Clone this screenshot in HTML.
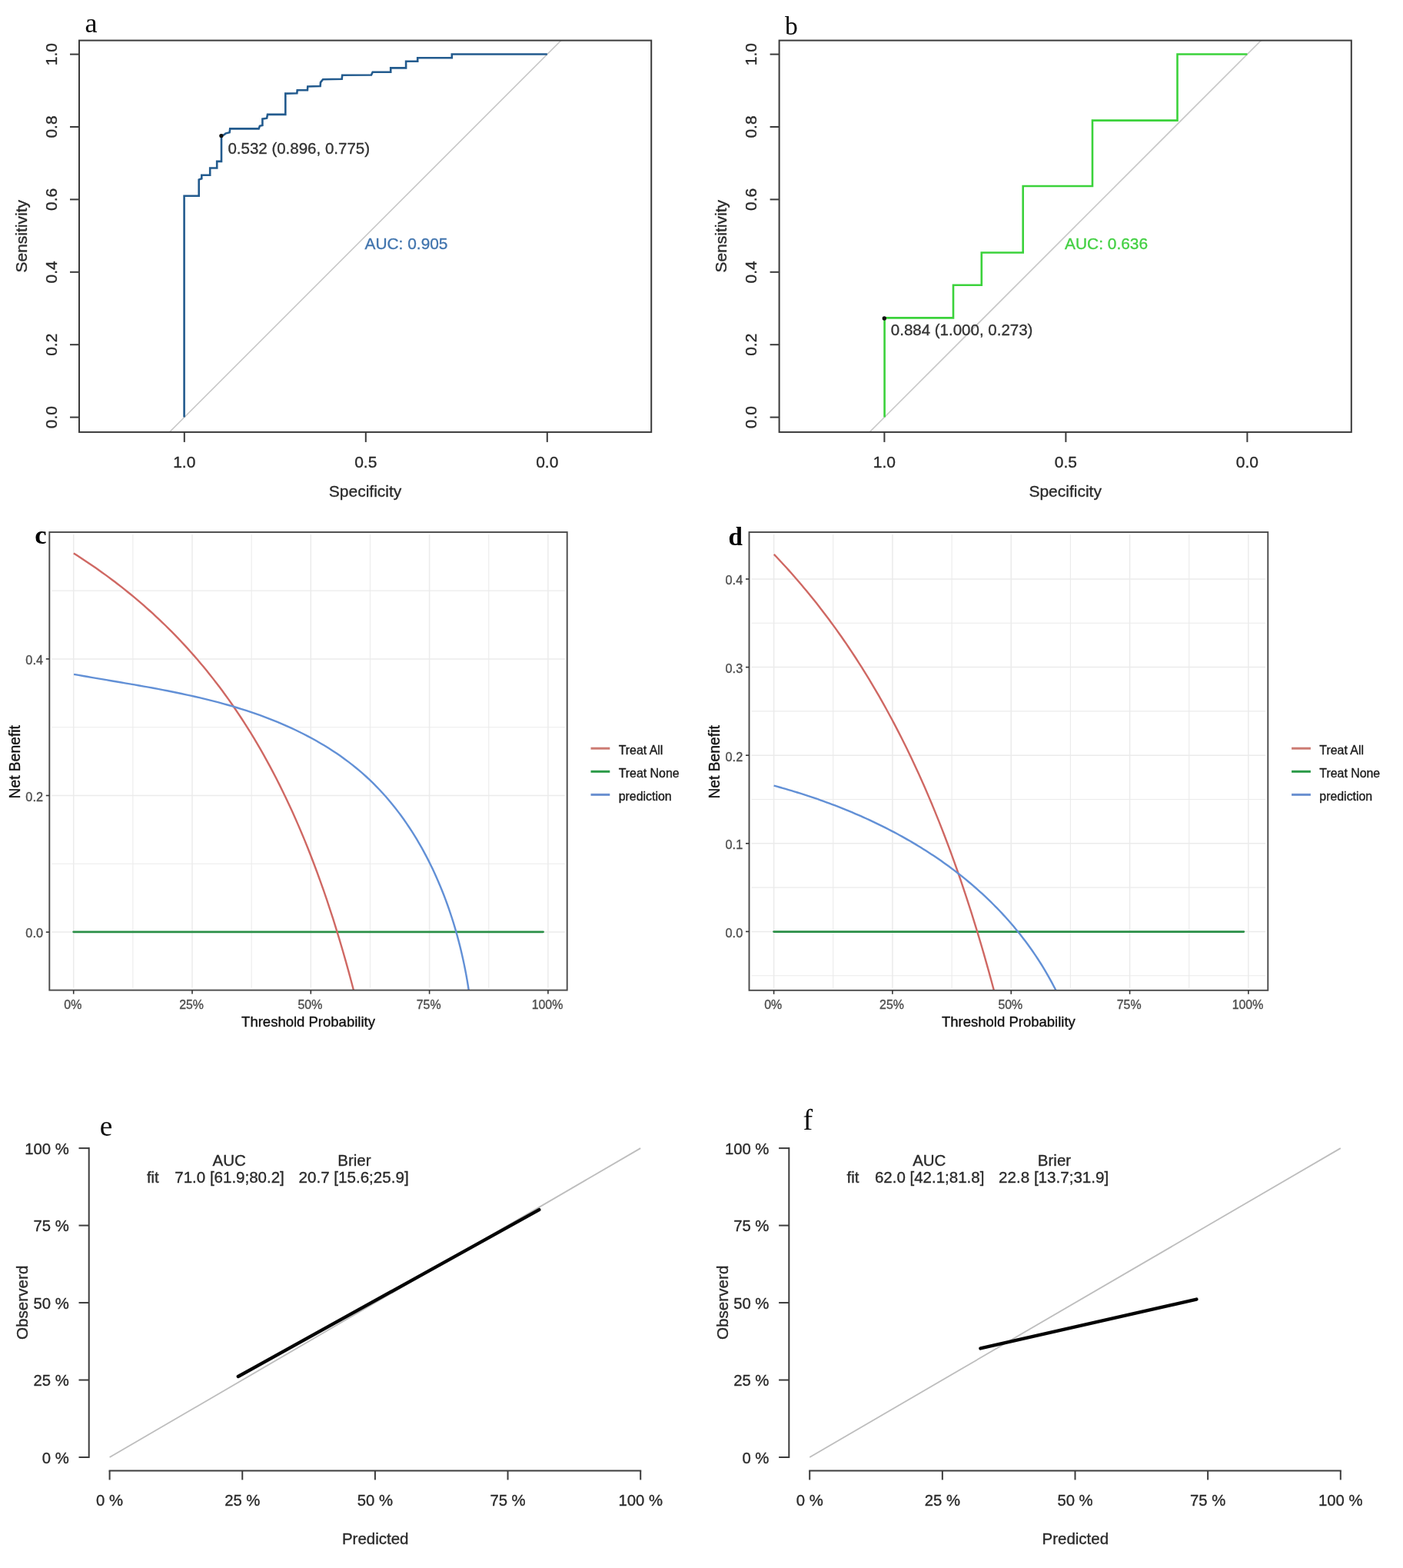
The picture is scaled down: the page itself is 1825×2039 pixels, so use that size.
<!DOCTYPE html>
<html><head><meta charset="utf-8"><title>Figure</title>
<style>html,body{margin:0;padding:0;background:#fff;} svg{display:block;}</style>
</head><body>
<svg width="1825" height="2039" viewBox="0 0 1825 2039">
<rect width="1825" height="2039" fill="#fff"/>
<clipPath id="clipa"><rect x="103" y="52.6" width="744.2" height="509.3"/></clipPath>
<line x1="211.48" y1="570.92" x2="740.12" y2="42.28" stroke="#c8c8c8" stroke-width="1.6" clip-path="url(#clipa)"/>
<polyline points="239.6,542.6 239.6,254.7 258.7,254.7 258.7,233.6 262.3,232.3 262.3,227.7 273.2,227.7 273.2,218.5 282.2,218.5 282.2,209.9 288,209.9 288,176.9 292,175 293.3,173.6 298.6,172.3 299.2,167.3 336.6,167.4 337.9,163.8 341.4,163 341.4,154.6 347.1,153.7 348,148.9 371.3,148.9 371.3,121.6 386.3,121.2 386.7,117.3 399.9,117.3 400.3,112.4 416.6,112 417,107.1 420.1,103.2 444.7,102.7 445.2,97.7 483,97.5 484.7,93.8 508.2,93.7 508.2,88.4 528.1,88.4 528.1,79.7 543.2,79.7 543.2,75.3 587.8,75.3 587.8,70.5 711.8,70.5" fill="none" stroke="#235b8e" stroke-width="2.6" stroke-linejoin="miter"/>
<rect x="103" y="52.6" width="744.2" height="509.3" fill="none" stroke="#3a3a3a" stroke-width="2"/>
<line x1="91" y1="542.6" x2="103" y2="542.6" stroke="#3a3a3a" stroke-width="2" />
<text x="73.7" y="542.6" font-size="21" text-anchor="middle" fill="#2a2a2a" stroke="#2a2a2a" stroke-width="0.35" font-family='"Liberation Sans", Arial, sans-serif' transform="rotate(-90 73.7 542.6)" >0.0</text>
<line x1="91" y1="448.2" x2="103" y2="448.2" stroke="#3a3a3a" stroke-width="2" />
<text x="73.7" y="448.2" font-size="21" text-anchor="middle" fill="#2a2a2a" stroke="#2a2a2a" stroke-width="0.35" font-family='"Liberation Sans", Arial, sans-serif' transform="rotate(-90 73.7 448.2)" >0.2</text>
<line x1="91" y1="353.8" x2="103" y2="353.8" stroke="#3a3a3a" stroke-width="2" />
<text x="73.7" y="353.8" font-size="21" text-anchor="middle" fill="#2a2a2a" stroke="#2a2a2a" stroke-width="0.35" font-family='"Liberation Sans", Arial, sans-serif' transform="rotate(-90 73.7 353.8)" >0.4</text>
<line x1="91" y1="259.4" x2="103" y2="259.4" stroke="#3a3a3a" stroke-width="2" />
<text x="73.7" y="259.4" font-size="21" text-anchor="middle" fill="#2a2a2a" stroke="#2a2a2a" stroke-width="0.35" font-family='"Liberation Sans", Arial, sans-serif' transform="rotate(-90 73.7 259.4)" >0.6</text>
<line x1="91" y1="165" x2="103" y2="165" stroke="#3a3a3a" stroke-width="2" />
<text x="73.7" y="165" font-size="21" text-anchor="middle" fill="#2a2a2a" stroke="#2a2a2a" stroke-width="0.35" font-family='"Liberation Sans", Arial, sans-serif' transform="rotate(-90 73.7 165)" >0.8</text>
<line x1="91" y1="70.6" x2="103" y2="70.6" stroke="#3a3a3a" stroke-width="2" />
<text x="73.7" y="70.6" font-size="21" text-anchor="middle" fill="#2a2a2a" stroke="#2a2a2a" stroke-width="0.35" font-family='"Liberation Sans", Arial, sans-serif' transform="rotate(-90 73.7 70.6)" >1.0</text>
<line x1="239.8" y1="561.9" x2="239.8" y2="574.9" stroke="#3a3a3a" stroke-width="2" />
<text x="239.8" y="608" font-size="21" text-anchor="middle" fill="#2a2a2a" stroke="#2a2a2a" stroke-width="0.35" font-family='"Liberation Sans", Arial, sans-serif' >1.0</text>
<line x1="475.8" y1="561.9" x2="475.8" y2="574.9" stroke="#3a3a3a" stroke-width="2" />
<text x="475.8" y="608" font-size="21" text-anchor="middle" fill="#2a2a2a" stroke="#2a2a2a" stroke-width="0.35" font-family='"Liberation Sans", Arial, sans-serif' >0.5</text>
<line x1="711.8" y1="561.9" x2="711.8" y2="574.9" stroke="#3a3a3a" stroke-width="2" />
<text x="711.8" y="608" font-size="21" text-anchor="middle" fill="#2a2a2a" stroke="#2a2a2a" stroke-width="0.35" font-family='"Liberation Sans", Arial, sans-serif' >0.0</text>
<text x="475.1" y="645.5" font-size="21" text-anchor="middle" fill="#2a2a2a" stroke="#2a2a2a" stroke-width="0.35" font-family='"Liberation Sans", Arial, sans-serif' >Specificity</text>
<text x="34.8" y="307.25" font-size="21" text-anchor="middle" fill="#2a2a2a" stroke="#2a2a2a" stroke-width="0.35" font-family='"Liberation Sans", Arial, sans-serif' transform="rotate(-90 34.8 307.25)" >Sensitivity</text>
<circle cx="287.9" cy="176.6" r="2.7" fill="#111"/>
<text x="296.4" y="199.7" font-size="20.5" text-anchor="start" fill="#333" stroke="#333" stroke-width="0.35" font-family='"Liberation Sans", Arial, sans-serif' >0.532 (0.896, 0.775)</text>
<text x="474.5" y="323.8" font-size="20.9" text-anchor="start" fill="#4275ae" stroke="#4275ae" stroke-width="0.35" font-family='"Liberation Sans", Arial, sans-serif' >AUC: 0.905</text>
<text x="110.6" y="42" font-size="36.2" text-anchor="start" fill="#0a0a0a" font-family='"Liberation Serif", "Times New Roman", serif' >a</text>
<clipPath id="clipb"><rect x="1013.6" y="52.6" width="744.2" height="509.3"/></clipPath>
<line x1="1122.08" y1="570.92" x2="1650.72" y2="42.28" stroke="#c8c8c8" stroke-width="1.6" clip-path="url(#clipb)"/>
<polyline points="1150.6,542.6 1150.6,413.4 1240,413.4 1240,370.8 1276.8,370.8 1276.8,328.5 1330.7,328.5 1330.7,242 1421,242 1421,156.6 1531.5,156.6 1531.5,70.5 1622.4,70.5" fill="none" stroke="#3bd23b" stroke-width="2.6" stroke-linejoin="miter"/>
<rect x="1013.6" y="52.6" width="744.2" height="509.3" fill="none" stroke="#3a3a3a" stroke-width="2"/>
<line x1="1001.6" y1="542.6" x2="1013.6" y2="542.6" stroke="#3a3a3a" stroke-width="2" />
<text x="984.3" y="542.6" font-size="21" text-anchor="middle" fill="#2a2a2a" stroke="#2a2a2a" stroke-width="0.35" font-family='"Liberation Sans", Arial, sans-serif' transform="rotate(-90 984.3 542.6)" >0.0</text>
<line x1="1001.6" y1="448.2" x2="1013.6" y2="448.2" stroke="#3a3a3a" stroke-width="2" />
<text x="984.3" y="448.2" font-size="21" text-anchor="middle" fill="#2a2a2a" stroke="#2a2a2a" stroke-width="0.35" font-family='"Liberation Sans", Arial, sans-serif' transform="rotate(-90 984.3 448.2)" >0.2</text>
<line x1="1001.6" y1="353.8" x2="1013.6" y2="353.8" stroke="#3a3a3a" stroke-width="2" />
<text x="984.3" y="353.8" font-size="21" text-anchor="middle" fill="#2a2a2a" stroke="#2a2a2a" stroke-width="0.35" font-family='"Liberation Sans", Arial, sans-serif' transform="rotate(-90 984.3 353.8)" >0.4</text>
<line x1="1001.6" y1="259.4" x2="1013.6" y2="259.4" stroke="#3a3a3a" stroke-width="2" />
<text x="984.3" y="259.4" font-size="21" text-anchor="middle" fill="#2a2a2a" stroke="#2a2a2a" stroke-width="0.35" font-family='"Liberation Sans", Arial, sans-serif' transform="rotate(-90 984.3 259.4)" >0.6</text>
<line x1="1001.6" y1="165" x2="1013.6" y2="165" stroke="#3a3a3a" stroke-width="2" />
<text x="984.3" y="165" font-size="21" text-anchor="middle" fill="#2a2a2a" stroke="#2a2a2a" stroke-width="0.35" font-family='"Liberation Sans", Arial, sans-serif' transform="rotate(-90 984.3 165)" >0.8</text>
<line x1="1001.6" y1="70.6" x2="1013.6" y2="70.6" stroke="#3a3a3a" stroke-width="2" />
<text x="984.3" y="70.6" font-size="21" text-anchor="middle" fill="#2a2a2a" stroke="#2a2a2a" stroke-width="0.35" font-family='"Liberation Sans", Arial, sans-serif' transform="rotate(-90 984.3 70.6)" >1.0</text>
<line x1="1150.4" y1="561.9" x2="1150.4" y2="574.9" stroke="#3a3a3a" stroke-width="2" />
<text x="1150.4" y="608" font-size="21" text-anchor="middle" fill="#2a2a2a" stroke="#2a2a2a" stroke-width="0.35" font-family='"Liberation Sans", Arial, sans-serif' >1.0</text>
<line x1="1386.4" y1="561.9" x2="1386.4" y2="574.9" stroke="#3a3a3a" stroke-width="2" />
<text x="1386.4" y="608" font-size="21" text-anchor="middle" fill="#2a2a2a" stroke="#2a2a2a" stroke-width="0.35" font-family='"Liberation Sans", Arial, sans-serif' >0.5</text>
<line x1="1622.4" y1="561.9" x2="1622.4" y2="574.9" stroke="#3a3a3a" stroke-width="2" />
<text x="1622.4" y="608" font-size="21" text-anchor="middle" fill="#2a2a2a" stroke="#2a2a2a" stroke-width="0.35" font-family='"Liberation Sans", Arial, sans-serif' >0.0</text>
<text x="1385.7" y="645.5" font-size="21" text-anchor="middle" fill="#2a2a2a" stroke="#2a2a2a" stroke-width="0.35" font-family='"Liberation Sans", Arial, sans-serif' >Specificity</text>
<text x="945.4" y="307.25" font-size="21" text-anchor="middle" fill="#2a2a2a" stroke="#2a2a2a" stroke-width="0.35" font-family='"Liberation Sans", Arial, sans-serif' transform="rotate(-90 945.4 307.25)" >Sensitivity</text>
<circle cx="1150.3" cy="414" r="2.7" fill="#111"/>
<text x="1158.8" y="435.9" font-size="20.5" text-anchor="start" fill="#333" stroke="#333" stroke-width="0.35" font-family='"Liberation Sans", Arial, sans-serif' >0.884 (1.000, 0.273)</text>
<text x="1385.1" y="323.8" font-size="20.9" text-anchor="start" fill="#44d044" stroke="#44d044" stroke-width="0.35" font-family='"Liberation Sans", Arial, sans-serif' >AUC: 0.636</text>
<text x="1020.9" y="44.9" font-size="33.6" text-anchor="start" fill="#0a0a0a" font-family='"Liberation Serif", "Times New Roman", serif' >b</text>
<line x1="67.3" y1="1123.3" x2="734.7" y2="1123.3" stroke="#ebebeb" stroke-width="1.1" />
<line x1="67.3" y1="945.7" x2="734.7" y2="945.7" stroke="#ebebeb" stroke-width="1.1" />
<line x1="67.3" y1="768.1" x2="734.7" y2="768.1" stroke="#ebebeb" stroke-width="1.1" />
<line x1="172.85" y1="695" x2="172.85" y2="1284.6" stroke="#ebebeb" stroke-width="1.1" />
<line x1="327.15" y1="695" x2="327.15" y2="1284.6" stroke="#ebebeb" stroke-width="1.1" />
<line x1="481.45" y1="695" x2="481.45" y2="1284.6" stroke="#ebebeb" stroke-width="1.1" />
<line x1="635.75" y1="695" x2="635.75" y2="1284.6" stroke="#ebebeb" stroke-width="1.1" />
<line x1="67.3" y1="1212.1" x2="734.7" y2="1212.1" stroke="#ebebeb" stroke-width="1.5" />
<line x1="67.3" y1="1034.5" x2="734.7" y2="1034.5" stroke="#ebebeb" stroke-width="1.5" />
<line x1="67.3" y1="856.9" x2="734.7" y2="856.9" stroke="#ebebeb" stroke-width="1.5" />
<line x1="95.7" y1="695" x2="95.7" y2="1284.6" stroke="#ebebeb" stroke-width="1.5" />
<line x1="250" y1="695" x2="250" y2="1284.6" stroke="#ebebeb" stroke-width="1.5" />
<line x1="404.3" y1="695" x2="404.3" y2="1284.6" stroke="#ebebeb" stroke-width="1.5" />
<line x1="558.6" y1="695" x2="558.6" y2="1284.6" stroke="#ebebeb" stroke-width="1.5" />
<line x1="712.9" y1="695" x2="712.9" y2="1284.6" stroke="#ebebeb" stroke-width="1.5" />
<clipPath id="clipc"><rect x="64.3" y="692" width="673.4" height="595.6"/></clipPath>
<g clip-path="url(#clipc)">
<line x1="95.7" y1="1211.8" x2="706.5" y2="1211.8" stroke="#2a8f47" stroke-width="2.8" stroke-linecap="round"/>
<polyline points="95.8,719.47 99.91,722.09 104.03,724.75 108.14,727.44 112.26,730.17 116.37,732.94 120.49,735.75 124.6,738.6 128.72,741.49 132.83,744.42 136.95,747.39 141.06,750.4 145.18,753.46 149.29,756.56 153.4,759.71 157.52,762.91 161.63,766.16 165.75,769.45 169.86,772.79 173.98,776.19 178.09,779.64 182.21,783.14 186.32,786.7 190.44,790.31 194.55,793.99 198.67,797.72 202.78,801.51 206.89,805.36 211.01,809.28 215.12,813.26 219.24,817.31 223.35,821.43 227.47,825.62 231.58,829.89 235.7,834.22 239.81,838.63 243.93,843.12 248.04,847.69 252.16,852.35 256.27,857.08 260.38,861.91 264.5,866.82 268.61,871.83 272.73,876.93 276.84,882.13 280.96,887.42 285.07,892.82 289.19,898.33 293.3,903.95 297.42,909.67 301.53,915.52 305.64,921.48 309.76,927.57 313.87,933.78 317.99,940.12 322.1,946.6 326.22,953.22 330.33,959.98 334.45,966.9 338.56,973.96 342.68,981.18 346.79,988.57 350.91,996.13 355.02,1003.87 359.13,1011.78 363.25,1019.89 367.36,1028.19 371.48,1036.69 375.59,1045.4 379.71,1054.33 383.82,1063.49 387.94,1072.88 392.05,1082.52 396.17,1092.41 400.28,1102.57 404.4,1113 408.51,1123.71 412.62,1134.73 416.74,1146.05 420.85,1157.7 424.97,1169.68 429.08,1182.02 433.2,1194.73 437.31,1207.82 441.43,1221.32 445.54,1235.24 449.66,1249.6 453.77,1264.42 457.89,1279.73 462,1295.56" fill="none" stroke="#cf6863" stroke-width="2.4" stroke-linejoin="round"/>
<polyline points="96.09,876.87 102.09,877.94 108.1,878.99 114.13,880.04 120.17,881.08 126.22,882.11 132.27,883.14 138.34,884.17 144.42,885.2 150.5,886.23 156.59,887.26 162.69,888.31 168.79,889.35 174.9,890.41 181,891.49 187.11,892.57 193.22,893.67 199.33,894.79 205.44,895.93 211.55,897.09 217.66,898.28 223.76,899.49 229.86,900.73 235.95,902 242.03,903.3 248.11,904.63 254.18,906 260.24,907.41 266.29,908.85 272.33,910.34 278.36,911.87 284.37,913.44 290.37,915.07 296.36,916.74 302.33,918.46 308.28,920.24 314.22,922.07 320.14,923.95 326.04,925.9 331.92,927.91 337.77,929.98 343.61,932.11 349.42,934.31 355.21,936.58 360.97,938.92 366.71,941.33 372.42,943.82 378.1,946.38 383.74,949.01 389.35,951.72 394.91,954.51 400.44,957.37 405.92,960.31 411.35,963.32 416.74,966.42 422.07,969.59 427.34,972.85 432.56,976.19 437.71,979.61 442.81,983.11 447.83,986.69 452.79,990.36 457.68,994.11 462.49,997.95 467.22,1001.88 471.88,1005.89 476.45,1009.99 480.94,1014.17 485.35,1018.44 489.68,1022.79 493.93,1027.22 498.1,1031.73 502.18,1036.31 506.19,1040.97 510.12,1045.7 513.97,1050.5 517.74,1055.37 521.44,1060.31 525.05,1065.31 528.59,1070.37 532.05,1075.49 535.44,1080.67 538.75,1085.91 541.99,1091.2 545.15,1096.54 548.23,1101.94 551.24,1107.38 554.18,1112.87 557.04,1118.4 559.83,1123.98 562.55,1129.6 565.2,1135.25 567.77,1140.95 570.28,1146.67 572.71,1152.43 575.07,1158.22 577.36,1164.04 579.58,1169.89 581.73,1175.76 583.82,1181.66 585.83,1187.57 587.78,1193.5 589.66,1199.46 591.47,1205.42 593.22,1211.4 594.9,1217.39 596.51,1223.39 598.06,1229.4 599.54,1235.41 600.96,1241.43 602.31,1247.45 603.6,1253.46 604.82,1259.48 605.99,1265.49 607.09,1271.49 608.12,1277.48 609.1,1283.47 610.01,1289.44 610.86,1295.4 611.66,1301.34" fill="none" stroke="#6290d6" stroke-width="2.4" stroke-linejoin="round"/>
</g>
<rect x="64.3" y="692" width="673.4" height="595.6" fill="none" stroke="#4a4a4a" stroke-width="1.9"/>
<line x1="59.8" y1="1212.1" x2="64.3" y2="1212.1" stroke="#333" stroke-width="1.6" />
<text x="56" y="1219.4" font-size="16.3" text-anchor="end" fill="#4d4d4d" stroke="#4d4d4d" stroke-width="0.35" font-family='"Liberation Sans", Arial, sans-serif' >0.0</text>
<line x1="59.8" y1="1034.5" x2="64.3" y2="1034.5" stroke="#333" stroke-width="1.6" />
<text x="56" y="1041.8" font-size="16.3" text-anchor="end" fill="#4d4d4d" stroke="#4d4d4d" stroke-width="0.35" font-family='"Liberation Sans", Arial, sans-serif' >0.2</text>
<line x1="59.8" y1="856.9" x2="64.3" y2="856.9" stroke="#333" stroke-width="1.6" />
<text x="56" y="864.2" font-size="16.3" text-anchor="end" fill="#4d4d4d" stroke="#4d4d4d" stroke-width="0.35" font-family='"Liberation Sans", Arial, sans-serif' >0.4</text>
<line x1="95.7" y1="1287.6" x2="95.7" y2="1292.6" stroke="#333" stroke-width="1.6" />
<text x="94.8" y="1311.9" font-size="15.9" text-anchor="middle" fill="#4d4d4d" stroke="#4d4d4d" stroke-width="0.35" font-family='"Liberation Sans", Arial, sans-serif' >0%</text>
<line x1="250" y1="1287.6" x2="250" y2="1292.6" stroke="#333" stroke-width="1.6" />
<text x="249.1" y="1311.9" font-size="15.9" text-anchor="middle" fill="#4d4d4d" stroke="#4d4d4d" stroke-width="0.35" font-family='"Liberation Sans", Arial, sans-serif' >25%</text>
<line x1="404.3" y1="1287.6" x2="404.3" y2="1292.6" stroke="#333" stroke-width="1.6" />
<text x="403.4" y="1311.9" font-size="15.9" text-anchor="middle" fill="#4d4d4d" stroke="#4d4d4d" stroke-width="0.35" font-family='"Liberation Sans", Arial, sans-serif' >50%</text>
<line x1="558.6" y1="1287.6" x2="558.6" y2="1292.6" stroke="#333" stroke-width="1.6" />
<text x="557.7" y="1311.9" font-size="15.9" text-anchor="middle" fill="#4d4d4d" stroke="#4d4d4d" stroke-width="0.35" font-family='"Liberation Sans", Arial, sans-serif' >75%</text>
<line x1="712.9" y1="1287.6" x2="712.9" y2="1292.6" stroke="#333" stroke-width="1.6" />
<text x="712" y="1311.9" font-size="15.9" text-anchor="middle" fill="#4d4d4d" stroke="#4d4d4d" stroke-width="0.35" font-family='"Liberation Sans", Arial, sans-serif' >100%</text>
<text x="401" y="1334.7" font-size="18.5" text-anchor="middle" fill="#111" stroke="#111" stroke-width="0.35" font-family='"Liberation Sans", Arial, sans-serif' >Threshold Probability</text>
<text x="26.3" y="990.8" font-size="19.3" text-anchor="middle" fill="#111" stroke="#111" stroke-width="0.35" font-family='"Liberation Sans", Arial, sans-serif' transform="rotate(-90 26.3 990.8)" >Net Benefit</text>
<line x1="768.5" y1="973.2" x2="793.3" y2="973.2" stroke="#cc7a72" stroke-width="3" />
<text x="804.7" y="980.8" font-size="15.9" text-anchor="start" fill="#1a1a1a" stroke="#1a1a1a" stroke-width="0.35" font-family='"Liberation Sans", Arial, sans-serif' >Treat All</text>
<line x1="768.5" y1="1003.3" x2="793.3" y2="1003.3" stroke="#2a9a47" stroke-width="3" />
<text x="804.7" y="1010.9" font-size="15.9" text-anchor="start" fill="#1a1a1a" stroke="#1a1a1a" stroke-width="0.35" font-family='"Liberation Sans", Arial, sans-serif' >Treat None</text>
<line x1="768.5" y1="1033.4" x2="793.3" y2="1033.4" stroke="#6a90d0" stroke-width="3" />
<text x="804.7" y="1041" font-size="15.9" text-anchor="start" fill="#1a1a1a" stroke="#1a1a1a" stroke-width="0.35" font-family='"Liberation Sans", Arial, sans-serif' >prediction</text>
<text x="45.2" y="707.4" font-size="34.6" text-anchor="start" fill="#000" font-family='"Liberation Serif", "Times New Roman", serif' font-weight="bold">c</text>
<line x1="977.5" y1="1268.7" x2="1646.3" y2="1268.7" stroke="#ebebeb" stroke-width="1.1" />
<line x1="977.5" y1="1154.1" x2="1646.3" y2="1154.1" stroke="#ebebeb" stroke-width="1.1" />
<line x1="977.5" y1="1039.5" x2="1646.3" y2="1039.5" stroke="#ebebeb" stroke-width="1.1" />
<line x1="977.5" y1="924.9" x2="1646.3" y2="924.9" stroke="#ebebeb" stroke-width="1.1" />
<line x1="977.5" y1="810.3" x2="1646.3" y2="810.3" stroke="#ebebeb" stroke-width="1.1" />
<line x1="1083.76" y1="695" x2="1083.76" y2="1284.8" stroke="#ebebeb" stroke-width="1.1" />
<line x1="1238.09" y1="695" x2="1238.09" y2="1284.8" stroke="#ebebeb" stroke-width="1.1" />
<line x1="1392.41" y1="695" x2="1392.41" y2="1284.8" stroke="#ebebeb" stroke-width="1.1" />
<line x1="1546.74" y1="695" x2="1546.74" y2="1284.8" stroke="#ebebeb" stroke-width="1.1" />
<line x1="977.5" y1="1211.4" x2="1646.3" y2="1211.4" stroke="#ebebeb" stroke-width="1.5" />
<line x1="977.5" y1="1096.8" x2="1646.3" y2="1096.8" stroke="#ebebeb" stroke-width="1.5" />
<line x1="977.5" y1="982.2" x2="1646.3" y2="982.2" stroke="#ebebeb" stroke-width="1.5" />
<line x1="977.5" y1="867.6" x2="1646.3" y2="867.6" stroke="#ebebeb" stroke-width="1.5" />
<line x1="977.5" y1="753" x2="1646.3" y2="753" stroke="#ebebeb" stroke-width="1.5" />
<line x1="1006.6" y1="695" x2="1006.6" y2="1284.8" stroke="#ebebeb" stroke-width="1.5" />
<line x1="1160.92" y1="695" x2="1160.92" y2="1284.8" stroke="#ebebeb" stroke-width="1.5" />
<line x1="1315.25" y1="695" x2="1315.25" y2="1284.8" stroke="#ebebeb" stroke-width="1.5" />
<line x1="1469.58" y1="695" x2="1469.58" y2="1284.8" stroke="#ebebeb" stroke-width="1.5" />
<line x1="1623.9" y1="695" x2="1623.9" y2="1284.8" stroke="#ebebeb" stroke-width="1.5" />
<clipPath id="clipd"><rect x="974.5" y="692" width="674.8" height="595.8"/></clipPath>
<g clip-path="url(#clipd)">
<line x1="1006.6" y1="1211.6" x2="1617.8" y2="1211.6" stroke="#2a8f47" stroke-width="2.8" stroke-linecap="round"/>
<polyline points="1006.8,720.87 1010.05,724.28 1013.3,727.73 1016.55,731.22 1019.8,734.74 1023.05,738.31 1026.3,741.91 1029.55,745.55 1032.8,749.24 1036.04,752.96 1039.29,756.73 1042.54,760.54 1045.79,764.4 1049.04,768.3 1052.29,772.24 1055.54,776.23 1058.79,780.27 1062.04,784.36 1065.29,788.49 1068.54,792.67 1071.79,796.91 1075.04,801.19 1078.29,805.53 1081.54,809.92 1084.79,814.37 1088.04,818.87 1091.29,823.43 1094.53,828.04 1097.78,832.71 1101.03,837.44 1104.28,842.24 1107.53,847.09 1110.78,852.01 1114.03,856.99 1117.28,862.04 1120.53,867.15 1123.78,872.33 1127.03,877.58 1130.28,882.9 1133.53,888.3 1136.78,893.77 1140.03,899.31 1143.28,904.93 1146.53,910.63 1149.78,916.41 1153.02,922.27 1156.27,928.22 1159.52,934.25 1162.77,940.37 1166.02,946.57 1169.27,952.87 1172.52,959.27 1175.77,965.75 1179.02,972.34 1182.27,979.02 1185.52,985.81 1188.77,992.7 1192.02,999.7 1195.27,1006.8 1198.52,1014.02 1201.77,1021.35 1205.02,1028.8 1208.27,1036.37 1211.51,1044.07 1214.76,1051.89 1218.01,1059.83 1221.26,1067.92 1224.51,1076.13 1227.76,1084.49 1231.01,1092.99 1234.26,1101.63 1237.51,1110.43 1240.76,1119.37 1244.01,1128.48 1247.26,1137.75 1250.51,1147.19 1253.76,1156.8 1257.01,1166.58 1260.26,1176.55 1263.51,1186.7 1266.76,1197.04 1270,1207.58 1273.25,1218.32 1276.5,1229.27 1279.75,1240.44 1283,1251.83 1286.25,1263.44 1289.5,1275.29 1292.75,1287.38 1296,1299.72" fill="none" stroke="#cf6863" stroke-width="2.4" stroke-linejoin="round"/>
<polyline points="1006.63,1021.66 1010.45,1022.7 1014.27,1023.76 1018.09,1024.84 1021.9,1025.94 1025.72,1027.05 1029.53,1028.19 1033.34,1029.34 1037.14,1030.51 1040.95,1031.7 1044.75,1032.91 1048.54,1034.14 1052.34,1035.38 1056.13,1036.65 1059.91,1037.94 1063.69,1039.24 1067.47,1040.57 1071.24,1041.91 1075,1043.27 1078.76,1044.66 1082.51,1046.06 1086.26,1047.49 1090,1048.93 1093.73,1050.4 1097.45,1051.88 1101.17,1053.39 1104.88,1054.91 1108.59,1056.46 1112.28,1058.02 1115.96,1059.61 1119.64,1061.22 1123.31,1062.85 1126.97,1064.5 1130.62,1066.17 1134.25,1067.86 1137.88,1069.58 1141.5,1071.31 1145.11,1073.07 1148.7,1074.85 1152.29,1076.65 1155.86,1078.47 1159.42,1080.31 1162.97,1082.18 1166.51,1084.06 1170.03,1085.97 1173.55,1087.91 1177.04,1089.86 1180.53,1091.84 1184,1093.83 1187.46,1095.86 1190.9,1097.9 1194.32,1099.97 1197.74,1102.06 1201.14,1104.17 1204.52,1106.3 1207.88,1108.46 1211.23,1110.64 1214.57,1112.85 1217.89,1115.08 1221.19,1117.33 1224.47,1119.6 1227.74,1121.9 1230.98,1124.23 1234.21,1126.57 1237.43,1128.94 1240.62,1131.34 1243.8,1133.76 1246.95,1136.2 1250.09,1138.67 1253.21,1141.16 1256.3,1143.67 1259.38,1146.21 1262.44,1148.78 1265.47,1151.36 1268.49,1153.98 1271.48,1156.61 1274.45,1159.27 1277.4,1161.96 1280.33,1164.67 1283.23,1167.4 1286.11,1170.16 1288.97,1172.94 1291.81,1175.74 1294.62,1178.57 1297.41,1181.42 1300.17,1184.29 1302.91,1187.19 1305.62,1190.12 1308.31,1193.06 1310.97,1196.03 1313.6,1199.03 1316.21,1202.04 1318.8,1205.09 1321.35,1208.15 1323.88,1211.24 1326.39,1214.35 1328.86,1217.48 1331.31,1220.64 1333.72,1223.82 1336.11,1227.03 1338.47,1230.25 1340.81,1233.51 1343.11,1236.78 1345.38,1240.08 1347.62,1243.4 1349.83,1246.74 1352.02,1250.11 1354.17,1253.5 1356.28,1256.91 1358.37,1260.35 1360.43,1263.8 1362.45,1267.28 1364.44,1270.79 1366.4,1274.32 1368.32,1277.87 1370.21,1281.44 1372.07,1285.03 1373.9,1288.65 1375.69,1292.29 1377.44,1295.95" fill="none" stroke="#6290d6" stroke-width="2.4" stroke-linejoin="round"/>
</g>
<rect x="974.5" y="692" width="674.8" height="595.8" fill="none" stroke="#4a4a4a" stroke-width="1.9"/>
<line x1="970" y1="1211.4" x2="974.5" y2="1211.4" stroke="#333" stroke-width="1.6" />
<text x="966.2" y="1218.7" font-size="16.3" text-anchor="end" fill="#4d4d4d" stroke="#4d4d4d" stroke-width="0.35" font-family='"Liberation Sans", Arial, sans-serif' >0.0</text>
<line x1="970" y1="1096.8" x2="974.5" y2="1096.8" stroke="#333" stroke-width="1.6" />
<text x="966.2" y="1104.1" font-size="16.3" text-anchor="end" fill="#4d4d4d" stroke="#4d4d4d" stroke-width="0.35" font-family='"Liberation Sans", Arial, sans-serif' >0.1</text>
<line x1="970" y1="982.2" x2="974.5" y2="982.2" stroke="#333" stroke-width="1.6" />
<text x="966.2" y="989.5" font-size="16.3" text-anchor="end" fill="#4d4d4d" stroke="#4d4d4d" stroke-width="0.35" font-family='"Liberation Sans", Arial, sans-serif' >0.2</text>
<line x1="970" y1="867.6" x2="974.5" y2="867.6" stroke="#333" stroke-width="1.6" />
<text x="966.2" y="874.9" font-size="16.3" text-anchor="end" fill="#4d4d4d" stroke="#4d4d4d" stroke-width="0.35" font-family='"Liberation Sans", Arial, sans-serif' >0.3</text>
<line x1="970" y1="753" x2="974.5" y2="753" stroke="#333" stroke-width="1.6" />
<text x="966.2" y="760.3" font-size="16.3" text-anchor="end" fill="#4d4d4d" stroke="#4d4d4d" stroke-width="0.35" font-family='"Liberation Sans", Arial, sans-serif' >0.4</text>
<line x1="1006.6" y1="1287.8" x2="1006.6" y2="1292.8" stroke="#333" stroke-width="1.6" />
<text x="1005.7" y="1312.1" font-size="15.9" text-anchor="middle" fill="#4d4d4d" stroke="#4d4d4d" stroke-width="0.35" font-family='"Liberation Sans", Arial, sans-serif' >0%</text>
<line x1="1160.92" y1="1287.8" x2="1160.92" y2="1292.8" stroke="#333" stroke-width="1.6" />
<text x="1160.02" y="1312.1" font-size="15.9" text-anchor="middle" fill="#4d4d4d" stroke="#4d4d4d" stroke-width="0.35" font-family='"Liberation Sans", Arial, sans-serif' >25%</text>
<line x1="1315.25" y1="1287.8" x2="1315.25" y2="1292.8" stroke="#333" stroke-width="1.6" />
<text x="1314.35" y="1312.1" font-size="15.9" text-anchor="middle" fill="#4d4d4d" stroke="#4d4d4d" stroke-width="0.35" font-family='"Liberation Sans", Arial, sans-serif' >50%</text>
<line x1="1469.58" y1="1287.8" x2="1469.58" y2="1292.8" stroke="#333" stroke-width="1.6" />
<text x="1468.67" y="1312.1" font-size="15.9" text-anchor="middle" fill="#4d4d4d" stroke="#4d4d4d" stroke-width="0.35" font-family='"Liberation Sans", Arial, sans-serif' >75%</text>
<line x1="1623.9" y1="1287.8" x2="1623.9" y2="1292.8" stroke="#333" stroke-width="1.6" />
<text x="1623" y="1312.1" font-size="15.9" text-anchor="middle" fill="#4d4d4d" stroke="#4d4d4d" stroke-width="0.35" font-family='"Liberation Sans", Arial, sans-serif' >100%</text>
<text x="1311.9" y="1334.7" font-size="18.5" text-anchor="middle" fill="#111" stroke="#111" stroke-width="0.35" font-family='"Liberation Sans", Arial, sans-serif' >Threshold Probability</text>
<text x="936.5" y="990.9" font-size="19.3" text-anchor="middle" fill="#111" stroke="#111" stroke-width="0.35" font-family='"Liberation Sans", Arial, sans-serif' transform="rotate(-90 936.5 990.9)" >Net Benefit</text>
<line x1="1680.1" y1="973.2" x2="1704.9" y2="973.2" stroke="#cc7a72" stroke-width="3" />
<text x="1716.3" y="980.8" font-size="15.9" text-anchor="start" fill="#1a1a1a" stroke="#1a1a1a" stroke-width="0.35" font-family='"Liberation Sans", Arial, sans-serif' >Treat All</text>
<line x1="1680.1" y1="1003.3" x2="1704.9" y2="1003.3" stroke="#2a9a47" stroke-width="3" />
<text x="1716.3" y="1010.9" font-size="15.9" text-anchor="start" fill="#1a1a1a" stroke="#1a1a1a" stroke-width="0.35" font-family='"Liberation Sans", Arial, sans-serif' >Treat None</text>
<line x1="1680.1" y1="1033.4" x2="1704.9" y2="1033.4" stroke="#6a90d0" stroke-width="3" />
<text x="1716.3" y="1041" font-size="15.9" text-anchor="start" fill="#1a1a1a" stroke="#1a1a1a" stroke-width="0.35" font-family='"Liberation Sans", Arial, sans-serif' >prediction</text>
<text x="947.6" y="709.4" font-size="33.1" text-anchor="start" fill="#000" font-family='"Liberation Serif", "Times New Roman", serif' font-weight="bold">d</text>
<line x1="142.6" y1="1895" x2="833.2" y2="1493.1" stroke="#bdbdbd" stroke-width="1.8" />
<line x1="309.8" y1="1790" x2="701.3" y2="1573.1" stroke="#050505" stroke-width="4.4" stroke-linecap="round"/>
<line x1="115.7" y1="1895" x2="115.7" y2="1493.1" stroke="#3c3c3c" stroke-width="2" stroke-linecap="square"/>
<line x1="102.5" y1="1895" x2="115.7" y2="1895" stroke="#3c3c3c" stroke-width="2" />
<text x="89.8" y="1902.6" font-size="20.3" text-anchor="end" fill="#2a2a2a" stroke="#2a2a2a" stroke-width="0.35" font-family='"Liberation Sans", Arial, sans-serif' >0 %</text>
<line x1="102.5" y1="1794.53" x2="115.7" y2="1794.53" stroke="#3c3c3c" stroke-width="2" />
<text x="89.8" y="1802.12" font-size="20.3" text-anchor="end" fill="#2a2a2a" stroke="#2a2a2a" stroke-width="0.35" font-family='"Liberation Sans", Arial, sans-serif' >25 %</text>
<line x1="102.5" y1="1694.05" x2="115.7" y2="1694.05" stroke="#3c3c3c" stroke-width="2" />
<text x="89.8" y="1701.65" font-size="20.3" text-anchor="end" fill="#2a2a2a" stroke="#2a2a2a" stroke-width="0.35" font-family='"Liberation Sans", Arial, sans-serif' >50 %</text>
<line x1="102.5" y1="1593.58" x2="115.7" y2="1593.58" stroke="#3c3c3c" stroke-width="2" />
<text x="89.8" y="1601.17" font-size="20.3" text-anchor="end" fill="#2a2a2a" stroke="#2a2a2a" stroke-width="0.35" font-family='"Liberation Sans", Arial, sans-serif' >75 %</text>
<line x1="102.5" y1="1493.1" x2="115.7" y2="1493.1" stroke="#3c3c3c" stroke-width="2" />
<text x="89.8" y="1500.7" font-size="20.3" text-anchor="end" fill="#2a2a2a" stroke="#2a2a2a" stroke-width="0.35" font-family='"Liberation Sans", Arial, sans-serif' >100 %</text>
<line x1="142.6" y1="1912.6" x2="833.2" y2="1912.6" stroke="#3c3c3c" stroke-width="2" stroke-linecap="square"/>
<line x1="142.6" y1="1912.6" x2="142.6" y2="1924.4" stroke="#3c3c3c" stroke-width="2" />
<text x="142.6" y="1958" font-size="20.3" text-anchor="middle" fill="#2a2a2a" stroke="#2a2a2a" stroke-width="0.35" font-family='"Liberation Sans", Arial, sans-serif' >0 %</text>
<line x1="315.25" y1="1912.6" x2="315.25" y2="1924.4" stroke="#3c3c3c" stroke-width="2" />
<text x="315.25" y="1958" font-size="20.3" text-anchor="middle" fill="#2a2a2a" stroke="#2a2a2a" stroke-width="0.35" font-family='"Liberation Sans", Arial, sans-serif' >25 %</text>
<line x1="487.9" y1="1912.6" x2="487.9" y2="1924.4" stroke="#3c3c3c" stroke-width="2" />
<text x="487.9" y="1958" font-size="20.3" text-anchor="middle" fill="#2a2a2a" stroke="#2a2a2a" stroke-width="0.35" font-family='"Liberation Sans", Arial, sans-serif' >50 %</text>
<line x1="660.55" y1="1912.6" x2="660.55" y2="1924.4" stroke="#3c3c3c" stroke-width="2" />
<text x="660.55" y="1958" font-size="20.3" text-anchor="middle" fill="#2a2a2a" stroke="#2a2a2a" stroke-width="0.35" font-family='"Liberation Sans", Arial, sans-serif' >75 %</text>
<line x1="833.2" y1="1912.6" x2="833.2" y2="1924.4" stroke="#3c3c3c" stroke-width="2" />
<text x="833.2" y="1958" font-size="20.3" text-anchor="middle" fill="#2a2a2a" stroke="#2a2a2a" stroke-width="0.35" font-family='"Liberation Sans", Arial, sans-serif' >100 %</text>
<text x="488.2" y="2008.4" font-size="20.5" text-anchor="middle" fill="#2a2a2a" stroke="#2a2a2a" stroke-width="0.35" font-family='"Liberation Sans", Arial, sans-serif' >Predicted</text>
<text x="36.4" y="1693.8" font-size="20.7" text-anchor="middle" fill="#2a2a2a" stroke="#2a2a2a" stroke-width="0.35" font-family='"Liberation Sans", Arial, sans-serif' transform="rotate(-90 36.4 1693.8)" >Observerd</text>
<text x="298.2" y="1515.7" font-size="20.5" text-anchor="middle" fill="#2a2a2a" stroke="#2a2a2a" stroke-width="0.35" font-family='"Liberation Sans", Arial, sans-serif' >AUC</text>
<text x="460.9" y="1515.7" font-size="20.5" text-anchor="middle" fill="#2a2a2a" stroke="#2a2a2a" stroke-width="0.35" font-family='"Liberation Sans", Arial, sans-serif' >Brier</text>
<text x="190.9" y="1537.5" font-size="20.3" text-anchor="start" fill="#2a2a2a" stroke="#2a2a2a" stroke-width="0.35" font-family='"Liberation Sans", Arial, sans-serif' >fit</text>
<text x="227.3" y="1537.5" font-size="20.5" text-anchor="start" fill="#2a2a2a" stroke="#2a2a2a" stroke-width="0.35" font-family='"Liberation Sans", Arial, sans-serif' >71.0 [61.9;80.2]</text>
<text x="388.5" y="1537.5" font-size="20.6" text-anchor="start" fill="#2a2a2a" stroke="#2a2a2a" stroke-width="0.35" font-family='"Liberation Sans", Arial, sans-serif' >20.7 [15.6;25.9]</text>
<text x="129.7" y="1477.3" font-size="37.3" text-anchor="start" fill="#0a0a0a" font-family='"Liberation Serif", "Times New Roman", serif' >e</text>
<line x1="1053.2" y1="1895" x2="1743.8" y2="1493.1" stroke="#bdbdbd" stroke-width="1.8" />
<line x1="1275.4" y1="1753.4" x2="1556.4" y2="1689.6" stroke="#050505" stroke-width="4.4" stroke-linecap="round"/>
<line x1="1026.3" y1="1895" x2="1026.3" y2="1493.1" stroke="#3c3c3c" stroke-width="2" stroke-linecap="square"/>
<line x1="1013.1" y1="1895" x2="1026.3" y2="1895" stroke="#3c3c3c" stroke-width="2" />
<text x="1000.4" y="1902.6" font-size="20.3" text-anchor="end" fill="#2a2a2a" stroke="#2a2a2a" stroke-width="0.35" font-family='"Liberation Sans", Arial, sans-serif' >0 %</text>
<line x1="1013.1" y1="1794.53" x2="1026.3" y2="1794.53" stroke="#3c3c3c" stroke-width="2" />
<text x="1000.4" y="1802.12" font-size="20.3" text-anchor="end" fill="#2a2a2a" stroke="#2a2a2a" stroke-width="0.35" font-family='"Liberation Sans", Arial, sans-serif' >25 %</text>
<line x1="1013.1" y1="1694.05" x2="1026.3" y2="1694.05" stroke="#3c3c3c" stroke-width="2" />
<text x="1000.4" y="1701.65" font-size="20.3" text-anchor="end" fill="#2a2a2a" stroke="#2a2a2a" stroke-width="0.35" font-family='"Liberation Sans", Arial, sans-serif' >50 %</text>
<line x1="1013.1" y1="1593.58" x2="1026.3" y2="1593.58" stroke="#3c3c3c" stroke-width="2" />
<text x="1000.4" y="1601.17" font-size="20.3" text-anchor="end" fill="#2a2a2a" stroke="#2a2a2a" stroke-width="0.35" font-family='"Liberation Sans", Arial, sans-serif' >75 %</text>
<line x1="1013.1" y1="1493.1" x2="1026.3" y2="1493.1" stroke="#3c3c3c" stroke-width="2" />
<text x="1000.4" y="1500.7" font-size="20.3" text-anchor="end" fill="#2a2a2a" stroke="#2a2a2a" stroke-width="0.35" font-family='"Liberation Sans", Arial, sans-serif' >100 %</text>
<line x1="1053.2" y1="1912.6" x2="1743.8" y2="1912.6" stroke="#3c3c3c" stroke-width="2" stroke-linecap="square"/>
<line x1="1053.2" y1="1912.6" x2="1053.2" y2="1924.4" stroke="#3c3c3c" stroke-width="2" />
<text x="1053.2" y="1958" font-size="20.3" text-anchor="middle" fill="#2a2a2a" stroke="#2a2a2a" stroke-width="0.35" font-family='"Liberation Sans", Arial, sans-serif' >0 %</text>
<line x1="1225.85" y1="1912.6" x2="1225.85" y2="1924.4" stroke="#3c3c3c" stroke-width="2" />
<text x="1225.85" y="1958" font-size="20.3" text-anchor="middle" fill="#2a2a2a" stroke="#2a2a2a" stroke-width="0.35" font-family='"Liberation Sans", Arial, sans-serif' >25 %</text>
<line x1="1398.5" y1="1912.6" x2="1398.5" y2="1924.4" stroke="#3c3c3c" stroke-width="2" />
<text x="1398.5" y="1958" font-size="20.3" text-anchor="middle" fill="#2a2a2a" stroke="#2a2a2a" stroke-width="0.35" font-family='"Liberation Sans", Arial, sans-serif' >50 %</text>
<line x1="1571.15" y1="1912.6" x2="1571.15" y2="1924.4" stroke="#3c3c3c" stroke-width="2" />
<text x="1571.15" y="1958" font-size="20.3" text-anchor="middle" fill="#2a2a2a" stroke="#2a2a2a" stroke-width="0.35" font-family='"Liberation Sans", Arial, sans-serif' >75 %</text>
<line x1="1743.8" y1="1912.6" x2="1743.8" y2="1924.4" stroke="#3c3c3c" stroke-width="2" />
<text x="1743.8" y="1958" font-size="20.3" text-anchor="middle" fill="#2a2a2a" stroke="#2a2a2a" stroke-width="0.35" font-family='"Liberation Sans", Arial, sans-serif' >100 %</text>
<text x="1398.8" y="2008.4" font-size="20.5" text-anchor="middle" fill="#2a2a2a" stroke="#2a2a2a" stroke-width="0.35" font-family='"Liberation Sans", Arial, sans-serif' >Predicted</text>
<text x="947" y="1693.8" font-size="20.7" text-anchor="middle" fill="#2a2a2a" stroke="#2a2a2a" stroke-width="0.35" font-family='"Liberation Sans", Arial, sans-serif' transform="rotate(-90 947 1693.8)" >Observerd</text>
<text x="1208.8" y="1515.7" font-size="20.5" text-anchor="middle" fill="#2a2a2a" stroke="#2a2a2a" stroke-width="0.35" font-family='"Liberation Sans", Arial, sans-serif' >AUC</text>
<text x="1371.5" y="1515.7" font-size="20.5" text-anchor="middle" fill="#2a2a2a" stroke="#2a2a2a" stroke-width="0.35" font-family='"Liberation Sans", Arial, sans-serif' >Brier</text>
<text x="1101.5" y="1537.5" font-size="20.3" text-anchor="start" fill="#2a2a2a" stroke="#2a2a2a" stroke-width="0.35" font-family='"Liberation Sans", Arial, sans-serif' >fit</text>
<text x="1137.9" y="1537.5" font-size="20.5" text-anchor="start" fill="#2a2a2a" stroke="#2a2a2a" stroke-width="0.35" font-family='"Liberation Sans", Arial, sans-serif' >62.0 [42.1;81.8]</text>
<text x="1299.1" y="1537.5" font-size="20.6" text-anchor="start" fill="#2a2a2a" stroke="#2a2a2a" stroke-width="0.35" font-family='"Liberation Sans", Arial, sans-serif' >22.8 [13.7;31.9]</text>
<text x="1044.6" y="1469.2" font-size="38.0" text-anchor="start" fill="#0a0a0a" font-family='"Liberation Serif", "Times New Roman", serif' >f</text>
</svg>
</body></html>
